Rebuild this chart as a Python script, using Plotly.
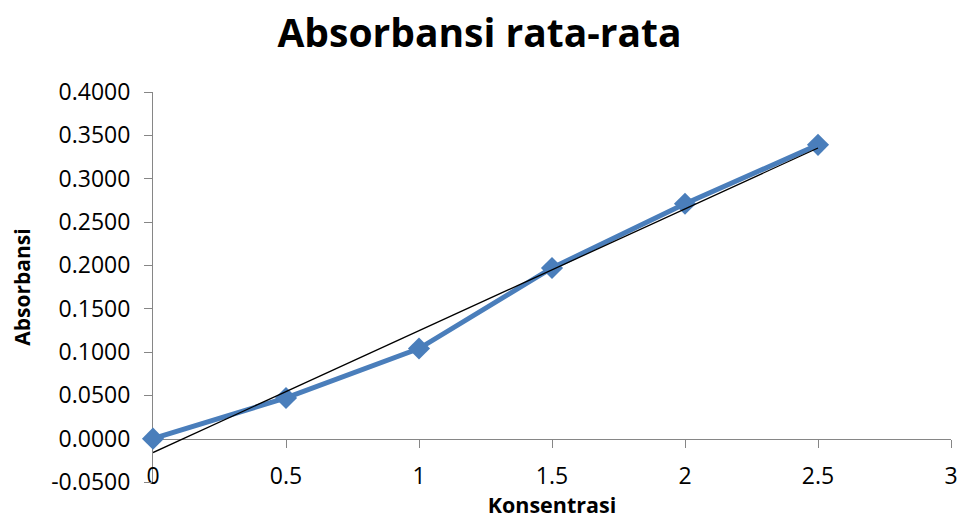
import numpy as np
import plotly.graph_objects as go

konsentrasi = [0, 0.5, 1, 1.5, 2, 2.5]
absorbansi = [0.0000, 0.0470, 0.1040, 0.1970, 0.2710, 0.3390]
y_ticks = [-0.05, 0.0, 0.05, 0.10, 0.15, 0.20, 0.25, 0.30, 0.35, 0.40]
y_tick_labels = ["-0.0500", "0.0000", "0.0500", "0.1000", "0.1500", "0.2000",
                 "0.2500", "0.3000", "0.3500", "0.4000"]
x_ticks = [0, 0.5, 1, 1.5, 2, 2.5, 3]
x_tick_labels = ["0", "0.5", "1", "1.5", "2", "2.5", "3"]

slope, intercept = np.polyfit(konsentrasi, absorbansi, 1)
trend_x = [konsentrasi[0], konsentrasi[-1]]
trend_y = [slope * v + intercept for v in trend_x]

FONT = "Open Sans"
AX = "#868686"

fig = go.Figure()
fig.add_trace(go.Scatter(
    x=konsentrasi, y=absorbansi, mode="lines+markers",
    line=dict(color="#4A7EBB", width=5),
    marker=dict(symbol="diamond", size=17, color="#4A7EBB"),
    cliponaxis=False,
    showlegend=False,
))
fig.add_trace(go.Scatter(
    x=trend_x, y=trend_y, mode="lines",
    line=dict(color="black", width=1.3),
    cliponaxis=False,
    showlegend=False,
))

ymin, ymax = -0.05, 0.40
fig.update_layout(
    width=959, height=519,
    margin=dict(l=153, r=8, t=92, b=37),
    paper_bgcolor="white", plot_bgcolor="white",
    font=dict(family=FONT, size=23, color="black"),
    title=dict(text="<b>Absorbansi rata-rata</b>", x=0.5, xanchor="center",
               y=1 - 33 / 519, yanchor="middle",
               font=dict(family=FONT, size=39, color="black")),
    xaxis=dict(
        range=[0, 3], tickvals=x_ticks, ticktext=x_tick_labels,
        anchor="free", position=(0 - ymin) / (ymax - ymin),
        automargin=False, layer="below traces",
        showline=True, linecolor=AX, linewidth=1,
        ticks="outside", ticklen=8, tickcolor=AX, tickwidth=1,
        ticklabelstandoff=9,
        showgrid=False, zeroline=False,
        tickfont=dict(family=FONT, size=23),
        title=dict(text="<b>Konsentrasi</b>", standoff=6,
                   font=dict(family=FONT, size=21.5)),
    ),
    yaxis=dict(
        range=[ymin, ymax], tickvals=y_ticks, ticktext=y_tick_labels,
        automargin=False, layer="below traces",
        showline=True, linecolor=AX, linewidth=1,
        ticks="outside", ticklen=8, tickcolor=AX, tickwidth=1,
        ticklabelstandoff=9,
        showgrid=False, zeroline=False,
        tickfont=dict(family=FONT, size=23),
        title=dict(text="<b>Absorbansi</b>", standoff=14,
                   font=dict(family=FONT, size=21)),
    ),
)

fig.write_html("out.html")
